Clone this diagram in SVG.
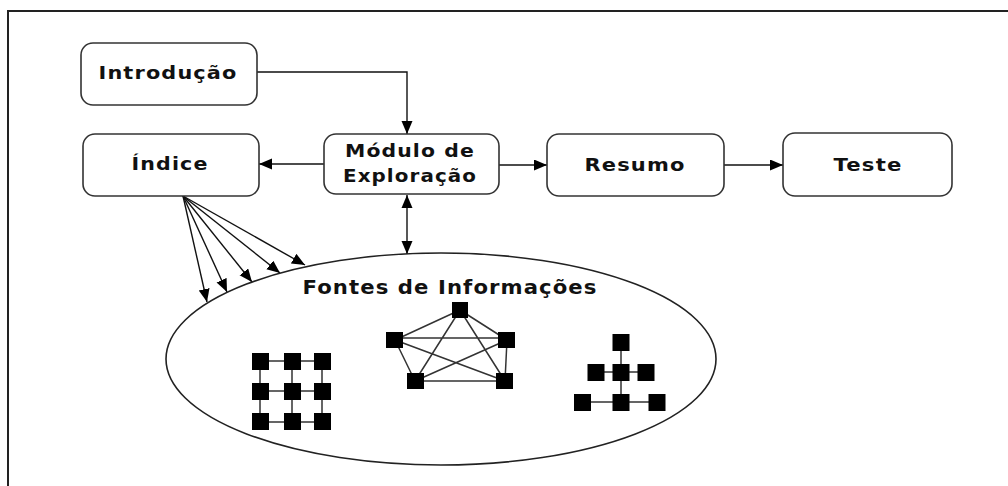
<svg xmlns="http://www.w3.org/2000/svg" width="1008" height="486" viewBox="0 0 1008 486">
<style>
.box{fill:#fff;stroke:#333;stroke-width:1.6}
.lbl{font-family:"DejaVu Sans",Verdana,sans-serif;font-weight:bold;font-size:18px;fill:#111;text-anchor:middle;letter-spacing:1px}
.con{fill:none;stroke:#111;stroke-width:1.4}
.sq{fill:#000}
.ln{stroke:#333;stroke-width:1.5;fill:none}
</style>
<defs>
<marker id="ah" markerUnits="userSpaceOnUse" markerWidth="14" markerHeight="12" refX="13" refY="5.5" orient="auto">
<path d="M0,0 L13,5.5 L0,11 z" fill="#000"/>
</marker>
<marker id="ahs" markerUnits="userSpaceOnUse" markerWidth="14" markerHeight="12" refX="0" refY="5.5" orient="auto">
<path d="M13,0 L0,5.5 L13,11 z" fill="#000"/>
</marker>
</defs>
<rect width="1008" height="486" fill="#fff"/>
<path d="M8,486 L8,11 L1008,11" fill="none" stroke="#222" stroke-width="2"/>

<g id="connectors">
<path class="con" d="M257,72 L407,72 L407,134" marker-end="url(#ah)"/>
<path class="con" d="M324,164 L259,164" marker-end="url(#ah)"/>
<path class="con" d="M499,165 L547,165" marker-end="url(#ah)"/>
<path class="con" d="M724,165 L783,165" marker-end="url(#ah)"/>
<path class="con" d="M407,195 L407,254" marker-start="url(#ahs)" marker-end="url(#ah)"/>
<path class="con" d="M183,196 L207,302" marker-end="url(#ah)"/>
<path class="con" d="M183,196 L227,292" marker-end="url(#ah)"/>
<path class="con" d="M183,196 L252,282" marker-end="url(#ah)"/>
<path class="con" d="M183,196 L280,273" marker-end="url(#ah)"/>
<path class="con" d="M183,196 L305,265" marker-end="url(#ah)"/>
</g>

<g id="introducao">
<rect class="box" x="81" y="43" width="176" height="62" rx="12"/>
<text class="lbl" x="168" y="79" textLength="139" lengthAdjust="spacingAndGlyphs">Introdução</text>
</g>
<g id="indice">
<rect class="box" x="83" y="134" width="176" height="62" rx="12"/>
<text class="lbl" x="170" y="170" textLength="77" lengthAdjust="spacingAndGlyphs">Índice</text>
</g>
<g id="modulo">
<rect class="box" x="324" y="134" width="175" height="60" rx="12"/>
<text class="lbl" x="410" y="157" textLength="130" lengthAdjust="spacingAndGlyphs">Módulo de</text>
<text class="lbl" x="410" y="182" textLength="134" lengthAdjust="spacingAndGlyphs">Exploração</text>
</g>
<g id="resumo">
<rect class="box" x="547" y="134" width="177" height="62" rx="12"/>
<text class="lbl" x="635" y="171" textLength="101" lengthAdjust="spacingAndGlyphs">Resumo</text>
</g>
<g id="teste">
<rect class="box" x="783" y="133" width="169" height="63" rx="12"/>
<text class="lbl" x="868" y="171" textLength="69" lengthAdjust="spacingAndGlyphs">Teste</text>
</g>

<g id="fontes">
<ellipse cx="441" cy="359" rx="275" ry="106" fill="none" stroke="#222" stroke-width="1.6"/>
<text class="lbl" x="450" y="294" style="font-size:19.5px" textLength="295" lengthAdjust="spacingAndGlyphs">Fontes de Informações</text>
<g id="grid">
<path class="ln" d="M260,361 H322 M260,391 H322 M260,422 H322 M260,361 V422 M292,361 V422 M322,361 V422"/>
<rect class="sq" x="252" y="353" width="17" height="17"/>
<rect class="sq" x="284" y="353" width="17" height="17"/>
<rect class="sq" x="314" y="353" width="17" height="17"/>
<rect class="sq" x="252" y="383" width="17" height="17"/>
<rect class="sq" x="284" y="383" width="17" height="17"/>
<rect class="sq" x="314" y="383" width="17" height="17"/>
<rect class="sq" x="252" y="413" width="17" height="17"/>
<rect class="sq" x="284" y="413" width="17" height="17"/>
<rect class="sq" x="314" y="413" width="17" height="17"/>
</g>
<g id="mesh">
<path class="ln" d="M460,310 L395,340 M460,310 L507,340 M460,310 L415,381 M460,310 L505,381 M395,338 L507,338 M395,340 L415,381 M395,340 L505,381 M507,340 L415,381 M507,340 L505,381 M415,381 L505,381"/>
<rect class="sq" x="452" y="302" width="16" height="16"/>
<rect class="sq" x="386" y="332" width="17" height="16"/>
<rect class="sq" x="498" y="332" width="17" height="16"/>
<rect class="sq" x="407" y="373" width="17" height="16"/>
<rect class="sq" x="496" y="373" width="17" height="16"/>
</g>
<g id="tree">
<path class="ln" d="M621,342 V402 M596,372 H646 M583,402 H657"/>
<rect class="sq" x="612.5" y="334" width="17" height="17"/>
<rect class="sq" x="587.5" y="364" width="17" height="17"/>
<rect class="sq" x="612.5" y="364" width="17" height="17"/>
<rect class="sq" x="637.5" y="364" width="17" height="17"/>
<rect class="sq" x="574" y="394" width="17" height="17"/>
<rect class="sq" x="612.5" y="394" width="17" height="17"/>
<rect class="sq" x="648.5" y="394" width="17" height="17"/>
</g>
</g>
</svg>
